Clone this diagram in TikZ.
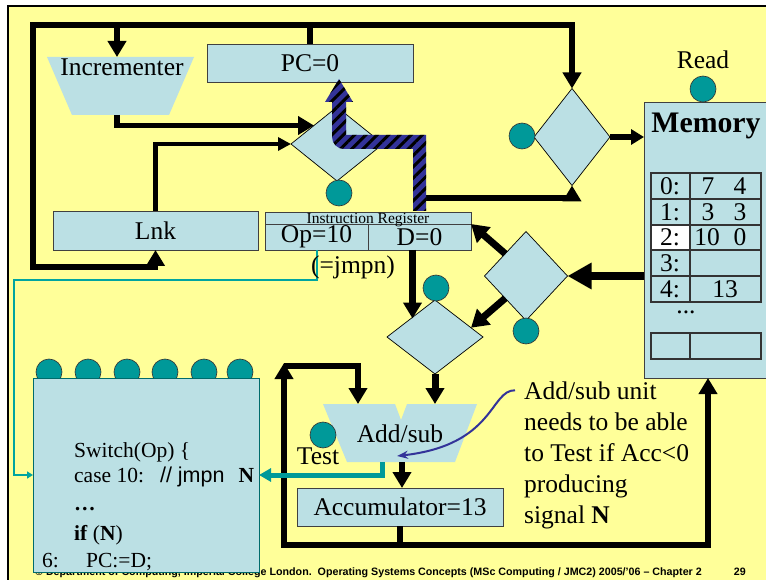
\documentclass[tikz,border=0pt]{standalone}
\usepackage{fontspec}
\setmainfont{Liberation Serif}
\newfontfamily\arialfont{Liberation Sans}
\usetikzlibrary{shapes.geometric,arrows.meta,patterns.meta,calc}

\definecolor{slideyellow}{RGB}{255,255,153}
\definecolor{boxblue}{RGB}{187,224,228}
\definecolor{ctlteal}{RGB}{0,153,153}
\definecolor{stripeblue}{RGB}{51,51,153}
\definecolor{opteal}{RGB}{0,165,160}

\newcommand{\slidefont}{\fontsize{25.5}{30}\selectfont}
\newcommand{\codefont}{\fontsize{21.5}{26}\selectfont}

\tikzset{
	box/.style={draw=black!75, fill=boxblue, line width=0.8pt, inner sep=0pt, outer sep=0pt, font=\slidefont},
	mux/.style={diamond, draw=black, fill=boxblue, line width=0.7pt, inner sep=0pt, outer sep=0pt},
	ctl/.style={circle, draw=black!80, fill=ctlteal, minimum size=26pt, inner sep=0pt, line width=0.6pt},
	bus/.style={line width=5.5pt},
	txt/.style={font=\slidefont, inner sep=0pt},
	swtxt/.style={font=\codefont, inner sep=0pt, anchor=base west},
	foot/.style={font=\arialfont\bfseries\fontsize{10.7}{12}\selectfont, inner sep=0pt, anchor=base east},
	nsig/.style={draw=ctlteal, line width=5pt},
	opsig/.style={draw=opteal, line width=2pt},
	annot/.style={draw=stripeblue, line width=2pt, -{Stealth[length=11pt,width=8pt]}},
}

\begin{document}
\begin{tikzpicture}[x=1pt, y=-1pt, >={Triangle[width=18pt,length=16pt]}]
	% 0. slide frame and footer
	\useasboundingbox (0,0) rectangle (766,580);
	\fill[white] (0,0) rectangle (766,580);
	\fill[slideyellow] (8,6) rectangle (766,580);
	\draw[line width=2pt] (8,580) -- (8,6) -- (766,6);
	\node[foot] (footer) at (702,575) {© Department of Computing, Imperial College London.\ \ Operating Systems Concepts (MSc Computing / JMC2) 2005/’06 – Chapter 2};
	\node[foot] (pageno) at (746,575) {29};

	% 1. fixed points of the datapath
	\coordinate (tl) at (33,25);
	\coordinate (bl) at (33,267);
	\coordinate (inctop) at (117,57);
	\coordinate (incbot) at (117,115);
	\coordinate (irout) at (426,198);
	\coordinate (opbend) at (14,280);
	\coordinate (alul) at (358,404);
	\coordinate (alur) at (436,404);
	\coordinate (alubot) at (402,462);
	\coordinate (nout) at (382,462);
	\coordinate (loopl) at (284,545);
	\coordinate (loopt) at (284,366);
	\coordinate (loopr) at (708,545);

	% 2. units
	\fill[boxblue] (47,57) -- (194,57) -- (169,115) -- (72,115) -- cycle;
	\fill[boxblue] (323,404) -- (395,404) -- (401,420) -- (407,404) -- (477,404) -- (455,462) -- (347,462) -- cycle;
	\node[box, minimum width=206pt, minimum height=38pt] (pc) at (310,63) {PC=0};
	\node[box, minimum width=205pt, minimum height=39pt] (lnk) at (155.5,230.5) {Lnk};
	\node[box, minimum width=206pt, minimum height=12pt] (irt) at (368,218) {};
	\node[box, minimum width=103pt, minimum height=26pt] (irop) at (316.5,237) {Op=10};
	\node[box, minimum width=103pt, minimum height=26pt] (ird) at (419.5,237) {D=0};
	\node[box, minimum width=206pt, minimum height=38pt] (acc) at (400,507) {Accumulator=13};
	\node[box, anchor=north west, minimum width=130pt, minimum height=276pt] (mem) at (644,102) {};

	% 3. multiplexers
	\node[mux, minimum width=92pt, minimum height=74pt] (muxpc) at (337,144) {};
	\node[mux, minimum width=76pt, minimum height=97pt] (muxmem) at (572,137) {};
	\node[mux, minimum width=83pt, minimum height=89pt] (muxdat) at (526,276) {};
	\node[mux, minimum width=96pt, minimum height=74pt] (muxalu) at (435,337) {};

	% 4. buses
	\draw[bus, <->] (lnk.south) |- (bl) -- (tl) -| (muxmem.north);
	\draw[bus] (pc.north) -- (pc.north |- tl);
	\draw[bus, ->] (inctop |- tl) -- (inctop);
	\draw[bus, ->] (incbot) |- (muxpc.north west);
	\draw[line width=4.5pt, -{Triangle[width=13pt,length=13pt]}] (lnk.north) |- (muxpc.west);
	\draw[bus, ->] (irout) -| (muxmem.south);
	\draw[bus, -{Triangle[width=15pt,length=13pt]}] (muxmem.east) -- (mem.west |- muxmem.east);
	\draw[line width=8pt, -{Triangle[width=25pt,length=24pt]}] (mem.west |- muxdat.east) -- (muxdat.east);
	\draw[line width=7pt, -{Triangle[width=20pt,length=17pt]}] (muxdat.north west) -- (ird.north east);
	\draw[line width=7pt, -{Triangle[width=20pt,length=17pt]}] (muxdat.south west) -- ($(muxalu.north east)!.5!(muxalu.east)$);
	\draw[line width=7pt, ->] ([xshift=-7pt]ird.south) -- ([xshift=-7pt]ird.south |- muxalu.north west);
	\draw[line width=7pt, ->] (muxalu.south) -- (muxalu.south |- alur);
	\draw[bus, ->] (alubot) -- (alubot |- acc.north);
	\draw[bus] (acc.south) -- (acc.south |- loopl);
	\draw[bus, <->] ([yshift=3pt]loopt) -- (loopl) -- (loopr) -- (loopr |- mem.south);
	\draw[bus, ->] (loopt) -| (alul);

	% 5. control signals
	\node[ctl] (selpc) at (339,193) {};
	\node[ctl] (selmem) at (522,136) {};
	\node[ctl] (read) at (703,89) {};
	\node[ctl] (seldat) at (526,331) {};
	\node[ctl] (selalu) at (436,288) {};
	\node[ctl] (test) at (323,435) {};
	\foreach \cx [count=\k] in {49,88,127,165,204,240}
		\node[ctl] (sig\k) at (\cx,372) {};

	% 6. control unit
	\node[box, draw=ctlteal!70!black, line width=0.6pt, minimum width=226pt, minimum height=194pt] (sw) at (146,475) {};
	\draw[nsig, -{Triangle[width=13pt,length=12pt]}] (nout) |- (sw.east);
	\draw[opsig, -{Triangle[width=7pt,length=6pt]}] (irop.south) |- (opbend) |- (sw.west);

	% 7. PC load path (striped)
	\path[fill=stripeblue, postaction={pattern={Lines[angle=45,distance=8pt,line width=3pt]}, pattern color=black}]
		(413,211) -- (426,211) -- (426,135) -- (346,135) -- (346,102) -- (353,102) -- (339,79) -- (325,102) -- (332,102)
		[rounded corners=12pt] -- (332,149) [sharp corners] -- (413,149) -- cycle;

	% 8. memory contents
	\fill[white] (651,225) rectangle (690,250);
	\draw[line width=1.2pt, black!80] (651,173) rectangle (761,302);
	\foreach \y in {199,225,250,276}
		\draw[line width=1.2pt, black!80] (651,\y) -- (761,\y);
	\draw[line width=1.2pt, black!80] (690,173) -- (690,302);
	\draw[line width=1.2pt, black!80] (651,333) rectangle (761,359) (690,333) -- (690,359);
	\foreach \i/\y in {0/186,1/212,2/237.5,3/263,4/289}
		\node[txt] (addr\i) at (670,\y) {\i:};
	\node[txt] (w0a) at (708,186) {7};
	\node[txt] (w0b) at (740,186) {4};
	\node[txt] (w1a) at (708,212) {3};
	\node[txt] (w1b) at (740,212) {3};
	\node[txt] (w2a) at (707,237.5) {10};
	\node[txt] (w2b) at (740,237.5) {0};
	\node[txt] (w4) at (725,289) {13};
	\node[txt] (dots) at (686,312) {...};

	% 9. labels
	\node[txt, anchor=base] (inctxt) at (122,76) {Incrementer};
	\node[inner sep=0pt, anchor=base, font=\fontsize{15.5}{18}\selectfont] (irtxt) at (368,224) {Instruction Register};
	\node[txt, anchor=base] (jmpn) at (353,273) {(=jmpn)};
	\node[txt, anchor=base] (alutxt) at (400,442) {Add/sub};
	\node[txt, anchor=base] (testtxt) at (318,464) {Test};
	\node[txt, anchor=base] (readtxt) at (703,69) {Read};
	\node[inner sep=0pt, anchor=base, font=\fontsize{29.8}{34}\selectfont\bfseries] (memtxt) at (706,133) {Memory};

	\node[swtxt] (sw1) at (74,457) {Switch(Op) \{};
	\node[swtxt] (sw2) at (74,482) {case 10:\hspace{16pt}{\arialfont // jmpn}\hspace{14pt}\textbf{N}};
	\node[swtxt] (sw3) at (74,510) {\textbf{…}};
	\node[swtxt] (sw4) at (74,540) {\textbf{if} (\textbf{N})};
	\node[swtxt] (sw5) at (42,567) {6:};
	\node[swtxt] (sw6) at (86,567) {PC:=D;};

	\foreach \t [count=\k] in {Add/sub unit, needs to be able, to Test if Acc<0, producing, signal \textbf{N}}
		\node[txt, anchor=base west] (note\k) at (524,368+31*\k) {\t};
	\draw[annot] ([xshift=-9pt]note1.west) .. controls (490,390) and (495,445) .. (397,456);
\end{tikzpicture}
\end{document}
